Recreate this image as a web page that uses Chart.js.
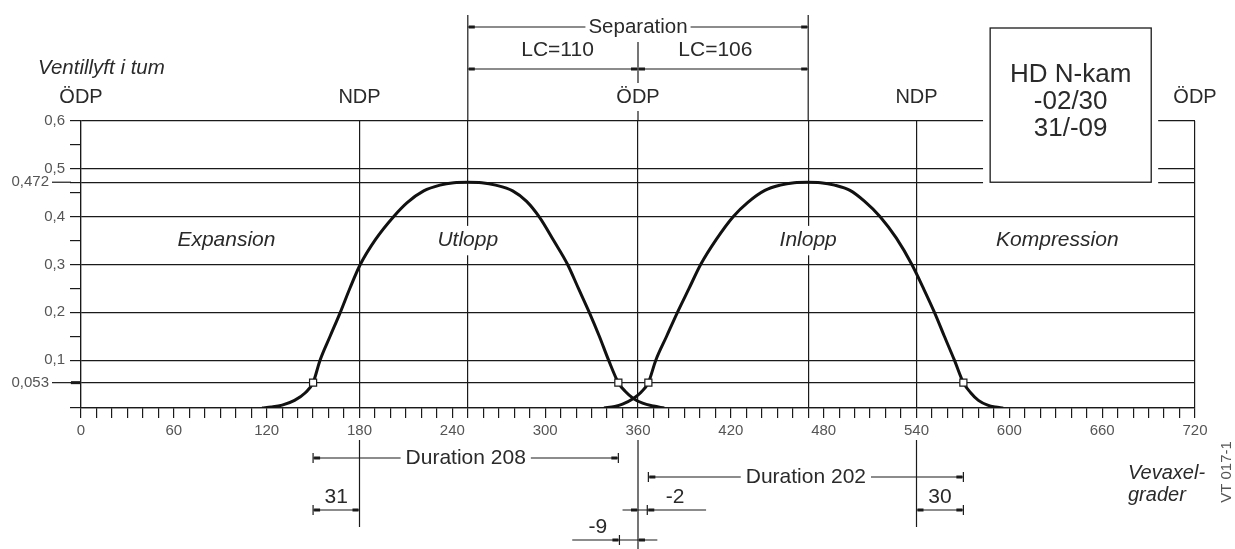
<!DOCTYPE html>
<html>
<head>
<meta charset="utf-8">
<script src="https://cdn.jsdelivr.net/npm/chart.js@4.4.1/dist/chart.umd.min.js"></script>
<style>
  body { margin: 0; background: #fff; }
  #wrap { width: 1235px; height: 549px; }
</style>
</head>
<body>
<div id="wrap"><canvas id="kamChart"></canvas></div>
<script>
// ventillyft (tum) mot vevaxelgrader, avlast ur bilden
const utloppGrader = [117, 123, 130, 138, 145, 150, 154.5, 161, 167.6, 174, 180.5, 190.5, 202, 211, 221.5, 232, 241, 250, 259, 268, 279, 288, 296.5, 305.5, 314.5, 321.5, 328.5, 335, 341, 347.3, 352, 357, 363, 370, 377];
const utloppLyft   = [0, 0.002, 0.006, 0.016, 0.032, 0.053, 0.1, 0.15, 0.2, 0.252, 0.3, 0.353, 0.4, 0.43, 0.454, 0.466, 0.471, 0.472, 0.471, 0.466, 0.454, 0.432, 0.398, 0.35, 0.3, 0.25, 0.2, 0.15, 0.1, 0.053, 0.034, 0.02, 0.01, 0.004, 0];
const inloppGrader = [338, 345, 350, 357, 362, 366.7, 371.5, 378.5, 385.5, 393, 400.5, 410.5, 421.5, 431, 442, 452, 461, 469.5, 478, 487, 497, 506.5, 516.5, 527, 537, 544.5, 551.6, 558, 564.5, 570.3, 575, 580, 586, 591, 596];
const inloppLyft   = [0, 0.003, 0.008, 0.02, 0.033, 0.053, 0.1, 0.15, 0.2, 0.25, 0.3, 0.352, 0.4, 0.43, 0.455, 0.466, 0.471, 0.472, 0.471, 0.466, 0.455, 0.432, 0.4, 0.355, 0.3, 0.25, 0.2, 0.15, 0.1, 0.053, 0.032, 0.016, 0.006, 0.002, 0];
const oppningGrader = [150, 347.3, 366.7, 570.3];
const oppningLyft   = [0.053, 0.053, 0.053, 0.053];

const xEtiketter = [0, 60, 120, 180, 240, 300, 360, 420, 480, 540, 600, 660, 720];
const xLinjer = [0, 180, 250, 360, 470, 540, 720];
const yVarden    = [0, 0.053, 0.1, 0.15, 0.2, 0.25, 0.3, 0.35, 0.4, 0.45, 0.472, 0.5, 0.55, 0.6];
const yEtiketter = ['', '0,053', '0,1', '', '0,2', '', '0,3', '', '0,4', '', '0,472', '0,5', '', '0,6'];
const yLinjer = [0, 0.053, 0.1, 0.2, 0.3, 0.4, 0.472, 0.5, 0.6];
const yExtra = [0.053, 0.472];

const dodpunktGrader = [0, 180, 360, 540, 720];
const dodpunktText = ['ÖDP', 'NDP', 'ÖDP', 'NDP', 'ÖDP'];
const faserGrader = [94, 250, 470, 631];
const faserText = ['Expansion', 'Utlopp', 'Inlopp', 'Kompression'];
const boxText = ['HD N-kam', '-02/30', '31/-09'];

const FONT = '"Liberation Sans", Arial, Helvetica, sans-serif';
const INK = '#1a1a1a';
const TXT = '#2a2a2a';

function punkter(xs, ys) {
  return xs.map(function (x, i) { return { x: x, y: ys[i] }; });
}

const ritning = {
  id: 'ritning',
  afterDraw(chart) {
    const ctx = chart.ctx;
    const a = chart.chartArea;
    const X = v => chart.scales.x.getPixelForValue(v);
    const Y = v => chart.scales.y.getPixelForValue(v);

    ctx.save();
    ctx.strokeStyle = INK;
    ctx.fillStyle = INK;

    function linje(x1, y1, x2, y2, w) {
      ctx.beginPath();
      ctx.lineWidth = w || 1.2;
      ctx.moveTo(x1, y1);
      ctx.lineTo(x2, y2);
      ctx.stroke();
    }
    function text(t, x, y, size, opt) {
      opt = opt || {};
      ctx.font = (opt.italic ? 'italic ' : '') + size + 'px ' + FONT;
      ctx.textAlign = opt.align || 'center';
      ctx.textBaseline = 'middle';
      if (opt.bg) {
        const w = ctx.measureText(t).width;
        let left = x - w / 2;
        if (ctx.textAlign === 'left') left = x;
        if (ctx.textAlign === 'right') left = x - w;
        ctx.fillStyle = '#fff';
        ctx.fillRect(left - (opt.padX || 4), y - size * 0.7, w + 2 * (opt.padX || 4), size * 1.4);
      }
      ctx.fillStyle = opt.color || TXT;
      ctx.fillText(t, x, y);
      ctx.fillStyle = INK;
    }
    function pil(x, y, dir) {
      ctx.fillStyle = INK;
      ctx.fillRect(dir > 0 ? x : x - 6, y - 1.5, 6, 3);
    }
    function stopp(x, y) {
      linje(x, y - 5, x, y + 5, 1.2);
    }

    // extra y-etiketter 0,472 och 0,053
    yExtra.forEach(function (v) {
      const i = yVarden.indexOf(v);
      linje(a.left - 29, Y(v), a.left - 10, Y(v), 1.2);
      text(yEtiketter[i], a.left - 32, Y(v), 15, { align: 'right', color: '#555' });
    });
    ctx.fillRect(a.left - 10, Y(0.053) - 1.5, 10, 3);

    // lodlinjer ovanfor och under diagrammet
    linje(X(250), a.top - 106, X(250), a.top);
    linje(X(470), a.top - 106, X(470), a.top);
    linje(X(360), a.top - 79, X(360), a.top);
    linje(X(180), a.bottom + 32, X(180), a.bottom + 119);
    linje(X(540), a.bottom + 32, X(540), a.bottom + 119);
    linje(X(360), a.bottom + 32, X(360), a.bottom + 141);

    // ODP / NDP
    dodpunktGrader.forEach(function (d, i) {
      text(dodpunktText[i], X(d), a.top - 24, 20, { bg: true, padX: 3 });
    });
    text('Ventillyft i tum', a.left - 43, a.top - 53, 20.5, { italic: true, align: 'left' });

    // separation
    const sepY = a.top - 94;
    linje(X(250), sepY, X(470), sepY);
    pil(X(250) + 1, sepY, 1);
    pil(X(470) - 1, sepY, -1);
    text('Separation', X(360), sepY, 20.5, { bg: true, padX: 3 });

    // LC
    const lcY = a.top - 52;
    linje(X(250), lcY, X(470), lcY);
    pil(X(250) + 1, lcY, 1);
    pil(X(360) - 1, lcY, -1);
    pil(X(360) + 1, lcY, 1);
    pil(X(470) - 1, lcY, -1);
    text('LC=110', X(308), a.top - 71, 21);
    text('LC=106', X(410), a.top - 71, 21);

    // faser
    faserGrader.forEach(function (d, i) {
      text(faserText[i], X(d), Y(0.35), 21, { italic: true, bg: true, padX: 3 });
    });

    // ruta
    const boxTop = a.top - 93;
    ctx.fillStyle = '#fff';
    ctx.fillRect(X(583), boxTop - 4, X(696.2) - X(583), Y(0.472) - boxTop + 6);
    ctx.lineWidth = 1.3;
    ctx.strokeStyle = INK;
    ctx.strokeRect(X(587.6), boxTop, X(691.7) - X(587.6), Y(0.472) - boxTop);
    boxText.forEach(function (t, i) {
      text(t, (X(587.6) + X(691.7)) / 2, boxTop + 47 + i * 27, 26);
    });

    // duration
    function matt(d1, d2, y, etikett) {
      linje(X(d1), y, X(d2), y);
      stopp(X(d1), y);
      stopp(X(d2), y);
      pil(X(d1) + 1, y, 1);
      pil(X(d2) - 1, y, -1);
      text(etikett, (X(d1) + X(d2)) / 2, y, 21, { bg: true, padX: 5 });
    }
    matt(oppningGrader[0], oppningGrader[1], a.bottom + 50, 'Duration 208');
    matt(oppningGrader[2], oppningGrader[3], a.bottom + 69, 'Duration 202');

    // 31 och 30
    const sY = a.bottom + 102;
    linje(X(150), sY, X(180), sY);
    stopp(X(150), sY);
    pil(X(150) + 1, sY, 1);
    pil(X(180) - 1, sY, -1);
    text('31', (X(150) + X(180)) / 2, sY - 13, 21);

    linje(X(540), sY, X(570.3), sY);
    stopp(X(570.3), sY);
    pil(X(540) + 1, sY, 1);
    pil(X(570.3) - 1, sY, -1);
    text('30', (X(540) + X(570.3)) / 2, sY - 13, 21);

    // -2
    linje(X(350), sY, X(404), sY);
    pil(X(360) - 1, sY, -1);
    stopp(X(366), sY);
    pil(X(366) + 1, sY, 1);
    text('-2', X(384), sY - 13, 21);

    // -9
    const nY = a.bottom + 132;
    linje(X(317.5), nY, X(372.5), nY);
    stopp(X(348), nY);
    pil(X(348) - 1, nY, -1);
    pil(X(360) + 1, nY, 1);
    text('-9', X(334), nY - 13, 21);

    // axeltext
    text('Vevaxel-', a.right - 67, a.bottom + 65, 20, { italic: true, align: 'left' });
    text('grader', a.right - 67, a.bottom + 87, 20, { italic: true, align: 'left' });
    ctx.save();
    ctx.translate(a.right + 32, a.bottom + 64);
    ctx.rotate(-Math.PI / 2);
    text('VT 017-1', 0, 0, 15, { color: '#555' });
    ctx.restore();

    ctx.restore();
  }
};

new Chart(document.getElementById('kamChart'), {
  type: 'line',
  data: {
    datasets: [
      {
        label: 'Oppning 0,053',
        data: punkter(oppningGrader, oppningLyft),
        showLine: false,
        pointStyle: 'rect',
        pointRadius: 5,
        pointBackgroundColor: '#fff',
        pointBorderColor: INK,
        pointBorderWidth: 1.2
      },
      {
        label: 'Utlopp',
        data: punkter(utloppGrader, utloppLyft),
        borderColor: '#111',
        borderWidth: 3,
        pointRadius: 0,
        cubicInterpolationMode: 'monotone',
        fill: false
      },
      {
        label: 'Inlopp',
        data: punkter(inloppGrader, inloppLyft),
        borderColor: '#111',
        borderWidth: 3,
        pointRadius: 0,
        cubicInterpolationMode: 'monotone',
        fill: false
      }
    ]
  },
  options: {
    responsive: true,
    maintainAspectRatio: false,
    devicePixelRatio: 1,
    animation: false,
    layout: { padding: { left: 0, top: 121, right: 40, bottom: 101 } },
    plugins: { legend: { display: false }, tooltip: { enabled: false } },
    scales: {
      x: {
        type: 'linear',
        min: 0,
        max: 720,
        afterFit: function (scale) { scale.height = 40; },
        ticks: {
          stepSize: 10,
          autoSkip: false,
          maxRotation: 0,
          padding: 4,
          color: '#555',
          font: { family: FONT, size: 15 },
          callback: function (v) { return xEtiketter.includes(v) ? String(v) : ''; }
        },
        grid: {
          color: function (c) { return c.tick && xLinjer.includes(c.tick.value) ? INK : 'rgba(0,0,0,0)'; },
          tickColor: INK,
          lineWidth: 1.2,
          tickWidth: 1.2,
          tickLength: 10
        },
        border: { color: INK, width: 1.2 }
      },
      y: {
        min: 0,
        max: 0.6,
        afterFit: function (scale) { scale.width = 81; },
        afterBuildTicks: function (scale) {
          scale.ticks = yVarden.map(function (v) { return { value: v }; });
        },
        ticks: {
          padding: 5,
          color: '#555',
          font: { family: FONT, size: 15 },
          callback: function (v) {
            if (yExtra.includes(v)) return '';
            const i = yVarden.indexOf(v);
            return i >= 0 ? yEtiketter[i] : '';
          }
        },
        grid: {
          color: function (c) { return c.tick && yLinjer.includes(c.tick.value) ? INK : 'rgba(0,0,0,0)'; },
          tickColor: INK,
          lineWidth: 1.2,
          tickWidth: 1.2,
          tickLength: 11
        },
        border: { color: INK, width: 1.2 }
      }
    }
  },
  plugins: [ritning]
});
</script>
</body>
</html>
